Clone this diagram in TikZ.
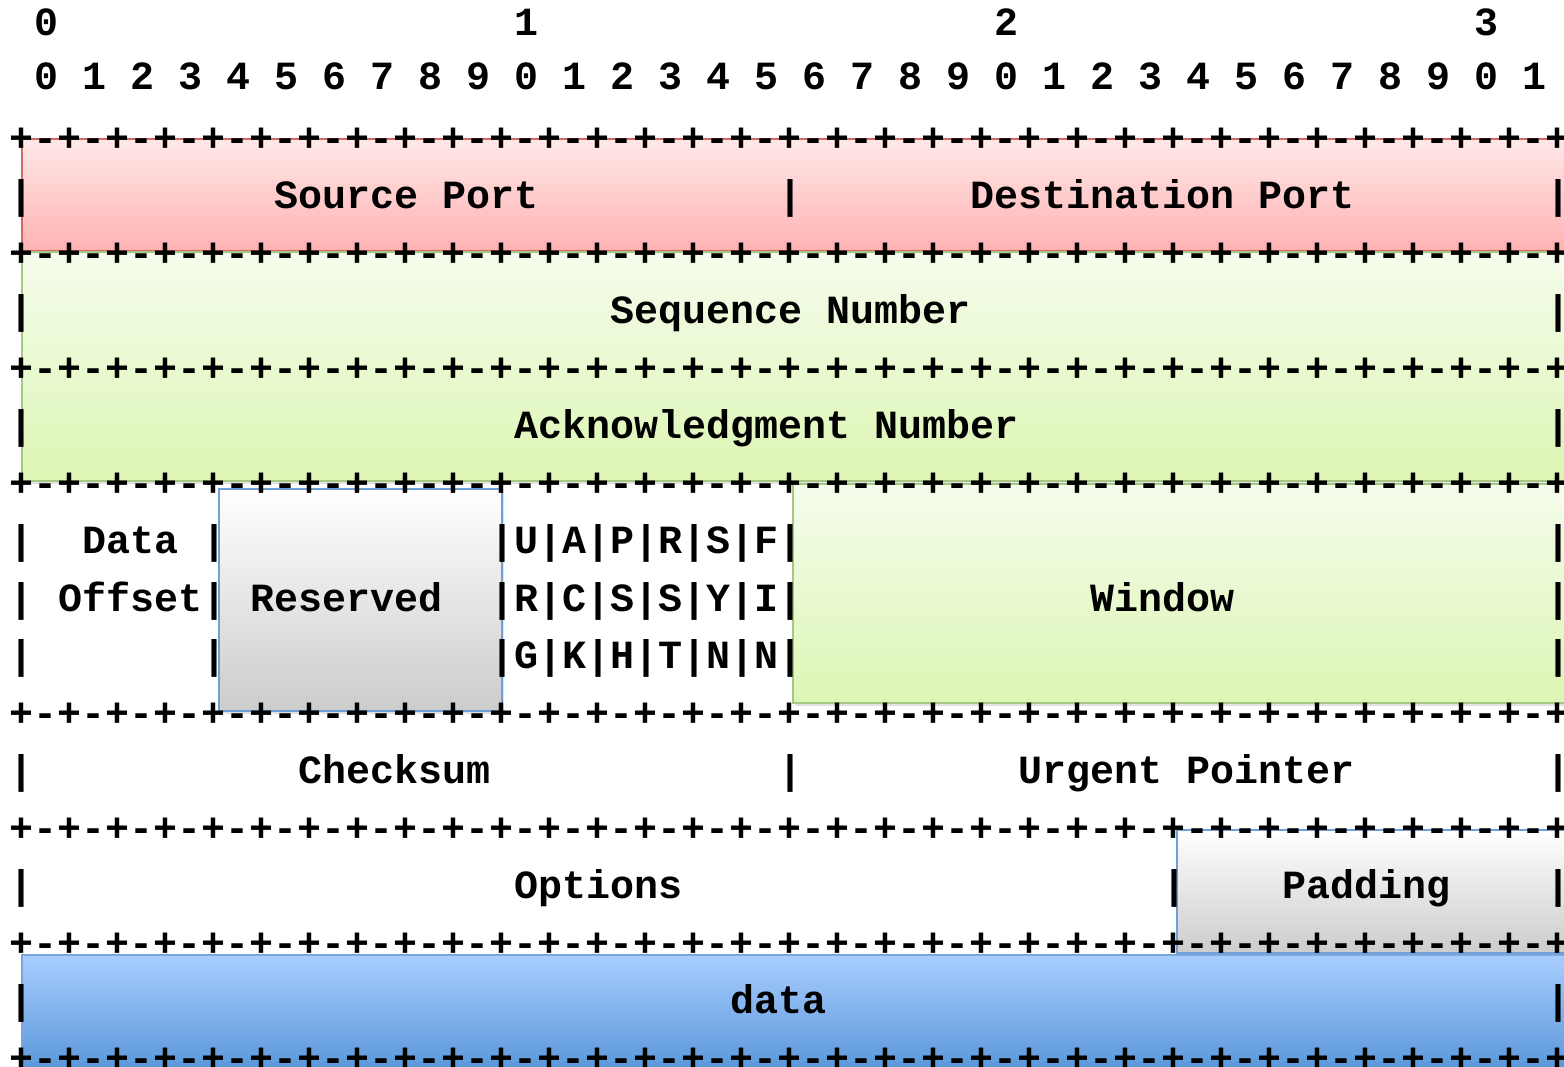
\documentclass[tikz,border=0pt]{standalone}
\usepackage{fontspec}
\usetikzlibrary{shadows}
\newfontfamily\asciifont{Liberation Mono}

% field colours
\definecolor{redtop}{RGB}{255,232,232}
\definecolor{redbot}{RGB}{255,178,178}
\definecolor{redline}{RGB}{214,104,104}
\definecolor{grntop}{RGB}{245,252,236}
\definecolor{grnbot}{RGB}{221,246,180}
\definecolor{grnline}{RGB}{165,200,130}
\definecolor{gratop}{RGB}{255,255,255}
\definecolor{grabot}{RGB}{204,204,204}
\definecolor{graline}{RGB}{110,159,213}
\definecolor{blutop}{RGB}{168,205,255}
\definecolor{blubot}{RGB}{90,151,217}
\definecolor{bluline}{RGB}{122,166,220}

\tikzset{
  cell/.style={anchor=base west, inner sep=0pt, outer sep=0pt,
    font=\fontsize{20pt}{20pt}\selectfont\asciifont\bfseries},
  field/.style={line width=0.6pt},
  redfield/.style={field, draw=redline, top color=redtop, bottom color=redbot},
  grnfield/.style={field, draw=grnline, top color=grntop, bottom color=grnbot},
  grafield/.style={field, draw=graline, top color=gratop, bottom color=grabot},
  blufield/.style={field, draw=bluline, top color=blutop, bottom color=blubot},
  lift/.style={drop shadow={opacity=0.22, shadow xshift=1.2pt, shadow yshift=-1.5pt}},
}

% text at character column #2 of line #3
\newcommand\chr[4]{\node[cell] (#1) at ({10+24*#2},{208.5+(#3-3)*57.5}) {#4};}
% a full border line of the header
\newcommand\border[2]{\node[cell] (#1) at (10,{208.5+(#2-3)*57.5}) {+\foreach \j in {1,...,32}{-+}};}

\begin{document}
\begin{tikzpicture}[x=0.5pt,y=-0.5pt]
\useasboundingbox (0,0) rectangle (1564,1066);

% coloured fields behind the text
\path[redfield] (22,139) rectangle (1566,251);
\path[grnfield, lift] (22,252) rectangle (1566,481);
\path[grafield, lift] (219,489) rectangle (502,711);
\path[grnfield, lift] (793,484) rectangle (1566,703);
\path[grafield, lift] (1177,830) rectangle (1566,953);
\path[blufield] (22,955) rectangle (1566,1070);

% bit numbering
\node[cell] (t0) at (34,35.5) {0};
\node[cell] (t1) at (514,35.5) {1};
\node[cell] (t2) at (994,35.5) {2};
\node[cell] (t3) at (1474,35.5) {3};
\foreach \i [evaluate=\i as \d using {int(mod(\i,10))}] in {0,...,31}
  {\node[cell] (b\i) at ({10+24*(1+2*\i)},89) {\d};}

% border lines
\border{r2}{2}
\border{r4}{4}
\border{r6}{6}
\border{r8}{8}
\border{r12}{12}
\border{r14}{14}
\border{r16}{16}
\border{r18}{18}

% ports
\chr{p0}{0}{3}{|}
\chr{src}{11}{3}{Source Port}
\chr{p1}{32}{3}{|}
\chr{dst}{40}{3}{Destination Port}
\chr{p2}{64}{3}{|}

% sequence number
\chr{s0}{0}{5}{|}
\chr{seq}{25}{5}{Sequence Number}
\chr{s1}{64}{5}{|}

% acknowledgment number
\chr{a0}{0}{7}{|}
\chr{ack}{21}{7}{Acknowledgment Number}
\chr{a1}{64}{7}{|}

% offset, reserved, flags, window
\chr{d0}{0}{9}{|}
\chr{data1}{3}{9}{Data}
\chr{d1}{8}{9}{|}
\chr{fl1}{20}{9}{|U|A|P|R|S|F|}
\chr{d2}{64}{9}{|}

\chr{o0}{0}{10}{|}
\chr{off}{2}{10}{Offset|}
\chr{res}{10}{10}{Reserved}
\chr{fl2}{20}{10}{|R|C|S|S|Y|I|}
\chr{win}{45}{10}{Window}
\chr{o1}{64}{10}{|}

\chr{g0}{0}{11}{|}
\chr{g1}{8}{11}{|}
\chr{fl3}{20}{11}{|G|K|H|T|N|N|}
\chr{g2}{64}{11}{|}

% checksum, urgent pointer
\chr{c0}{0}{13}{|}
\chr{chk}{12}{13}{Checksum}
\chr{c1}{32}{13}{|}
\chr{urg}{42}{13}{Urgent Pointer}
\chr{c2}{64}{13}{|}

% options, padding
\chr{q0}{0}{15}{|}
\chr{opt}{21}{15}{Options}
\chr{q1}{48}{15}{|}
\chr{pad}{53}{15}{Padding}
\chr{q2}{64}{15}{|}

% payload
\chr{e0}{0}{17}{|}
\chr{payload}{30}{17}{data}
\chr{e1}{64}{17}{|}
\end{tikzpicture}
\end{document}
